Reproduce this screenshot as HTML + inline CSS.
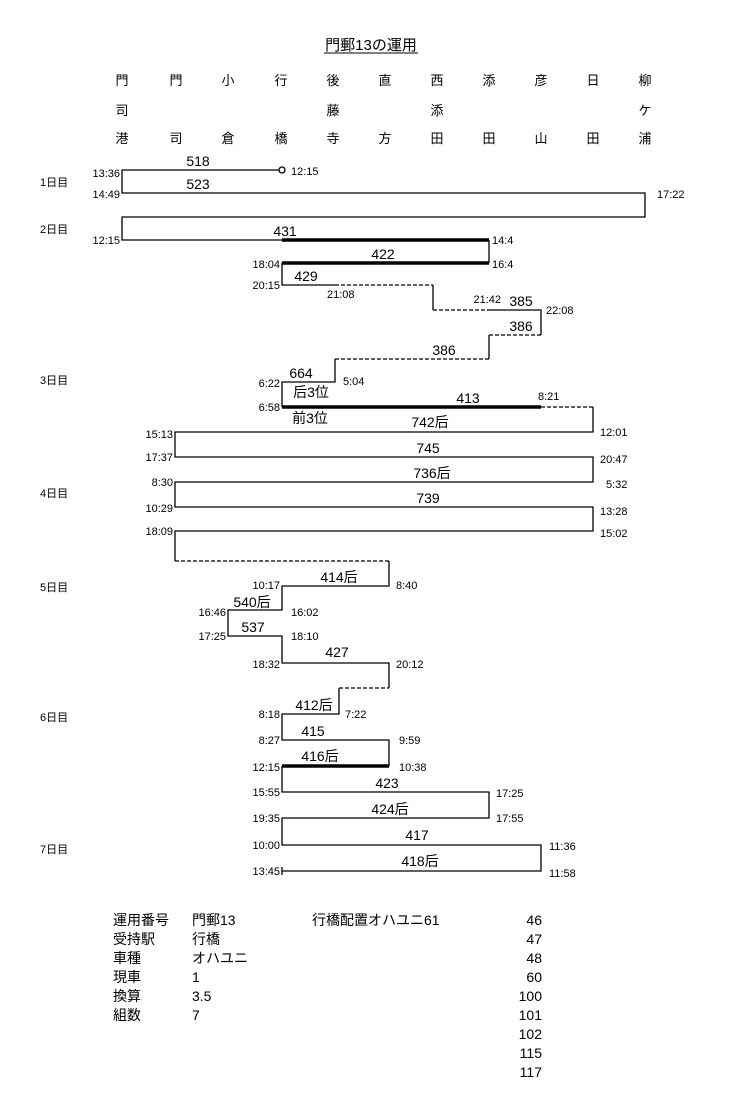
<!DOCTYPE html>
<html><head><meta charset="utf-8"><style>
html,body{margin:0;padding:0;background:#fff;}
svg{display:block;font-family:"Liberation Sans","Noto Sans CJK JP",sans-serif;}
.t{font-size:11px;}
.n{font-size:14px;text-anchor:middle;}
.h{font-size:13px;text-anchor:middle;}
.b{font-size:14px;}
</style></head><body>
<svg width="750" height="1101" viewBox="0 0 750 1101" xmlns="http://www.w3.org/2000/svg">
<text x="371" y="50" font-size="15" text-anchor="middle">門郵13の運用</text>
<line x1="324" y1="53" x2="418" y2="53" stroke="#000" stroke-width="1"/>
<g class="h">
<text x="122" y="85">門</text><text x="176" y="85">門</text><text x="228" y="85">小</text><text x="281" y="85">行</text><text x="333" y="85">後</text><text x="385" y="85">直</text><text x="437" y="85">西</text><text x="489" y="85">添</text><text x="541" y="85">彦</text><text x="593" y="85">日</text><text x="645" y="85">柳</text>
<text x="122" y="115">司</text><text x="333" y="115">藤</text><text x="437" y="115">添</text><text x="645" y="115">ケ</text>
<text x="122" y="143">港</text><text x="176" y="143">司</text><text x="228" y="143">倉</text><text x="281" y="143">橋</text><text x="333" y="143">寺</text><text x="385" y="143">方</text><text x="437" y="143">田</text><text x="489" y="143">田</text><text x="541" y="143">山</text><text x="593" y="143">田</text><text x="645" y="143">浦</text>
</g>
<g font-size="11">
<text x="40" y="186">1日目</text><text x="40" y="233">2日目</text><text x="40" y="384">3日目</text><text x="40" y="497">4日目</text><text x="40" y="591">5日目</text><text x="40" y="721">6日目</text><text x="40" y="853">7日目</text>
</g>
<g fill="none" stroke="#000" stroke-width="1.3">
<path d="M280 170H122V193H645V217H122V240H282"/>
<path d="M489 240V263"/>
<path d="M282 263V285H335"/>
<path d="M433 285V310"/>
<path d="M489 310H541V335"/>
<path d="M489 335V359"/>
<path d="M335 359V382H282V407"/>
<path d="M593 407V432H175V457H593V482H175V507H593V531H175V561"/>
<path d="M389 561V586H282V610H228V636H282V663H389V688"/>
<path d="M339 688V714H282V740H389V766"/>
<path d="M282 766V792H489V818H282V845H541V871H282"/>
<path d="M282 867V875"/>
</g>
<circle cx="282" cy="170" r="3" fill="#fff" stroke="#000" stroke-width="1.3"/>
<g stroke="#000" stroke-width="3.5">
<line x1="282" y1="240" x2="489" y2="240"/><line x1="282" y1="263" x2="489" y2="263"/>
<line x1="282" y1="407" x2="541" y2="407"/><line x1="282" y1="766" x2="389" y2="766"/>
</g>
<g fill="none" stroke="#000" stroke-width="1.3" stroke-dasharray="4,2">
<path d="M335 285H433"/><path d="M433 310H489"/><path d="M489 335H541"/><path d="M335 359H489"/>
<path d="M541 407H593"/><path d="M175 561H389"/><path d="M339 688H389"/>
</g>
<g class="n">
<text x="198" y="166">518</text><text x="198" y="189">523</text><text x="285" y="236">431</text><text x="383" y="259">422</text>
<text x="306" y="281">429</text><text x="521" y="306">385</text><text x="521" y="331">386</text><text x="444" y="355">386</text>
<text x="301" y="378">664</text><text x="311" y="397">后3位</text><text x="468" y="403">413</text><text x="310" y="423">前3位</text><text x="430" y="427">742后</text>
<text x="428" y="453">745</text><text x="432" y="478">736后</text><text x="428" y="503">739</text>
<text x="339" y="582">414后</text><text x="252" y="607">540后</text><text x="253" y="632">537</text><text x="337" y="657">427</text>
<text x="314" y="710">412后</text><text x="313" y="736">415</text><text x="320" y="761">416后</text><text x="387" y="788">423</text>
<text x="390" y="814">424后</text><text x="417" y="840">417</text><text x="420" y="866">418后</text>
</g>
<g class="t">
<g text-anchor="end">
<text x="120" y="177">13:36</text><text x="120" y="198">14:49</text><text x="120" y="244">12:15</text><text x="280" y="268">18:04</text><text x="280" y="289">20:15</text>
<text x="501" y="303">21:42</text><text x="280" y="387">6:22</text><text x="280" y="411">6:58</text>
<text x="173" y="438">15:13</text><text x="173" y="461">17:37</text><text x="173" y="486">8:30</text><text x="173" y="512">10:29</text><text x="173" y="535">18:09</text>
<text x="280" y="589">10:17</text><text x="226" y="616">16:46</text><text x="226" y="640">17:25</text><text x="280" y="668">18:32</text>
<text x="280" y="718">8:18</text><text x="280" y="744">8:27</text><text x="280" y="771">12:15</text><text x="280" y="796">15:55</text><text x="280" y="822">19:35</text><text x="280" y="849">10:00</text><text x="280" y="875">13:45</text>
</g>
<text x="291" y="175">12:15</text><text x="657" y="198">17:22</text><text x="492" y="244">14:4</text><text x="492" y="268">16:4</text>
<text x="327" y="298">21:08</text><text x="546" y="314">22:08</text><text x="343" y="385">5:04</text><text x="538" y="400">8:21</text>
<text x="600" y="436">12:01</text><text x="600" y="463">20:47</text><text x="606" y="488">5:32</text><text x="600" y="515">13:28</text><text x="600" y="537">15:02</text>
<text x="396" y="589">8:40</text><text x="291" y="616">16:02</text><text x="291" y="640">18:10</text><text x="396" y="668">20:12</text>
<text x="345" y="718">7:22</text><text x="399" y="744">9:59</text><text x="399" y="771">10:38</text><text x="496" y="797">17:25</text><text x="496" y="822">17:55</text>
<text x="549" y="850">11:36</text><text x="549" y="877">11:58</text>
</g>
<g class="b">
<text x="113" y="925">運用番号</text><text x="192" y="925">門郵13</text>
<text x="113" y="944">受持駅</text><text x="192" y="944">行橋</text>
<text x="113" y="963">車種</text><text x="192" y="963">オハユニ</text>
<text x="113" y="982">現車</text><text x="192" y="982">1</text>
<text x="113" y="1001">換算</text><text x="192" y="1001">3.5</text>
<text x="113" y="1020">組数</text><text x="192" y="1020">7</text>
<text x="312" y="925">行橋配置オハユニ61</text>
<g text-anchor="end">
<text x="542" y="925">46</text><text x="542" y="944">47</text><text x="542" y="963">48</text><text x="542" y="982">60</text><text x="542" y="1001">100</text><text x="542" y="1020">101</text><text x="542" y="1039">102</text><text x="542" y="1058">115</text><text x="542" y="1077">117</text>
</g>
</g>
</svg>
</body></html>
